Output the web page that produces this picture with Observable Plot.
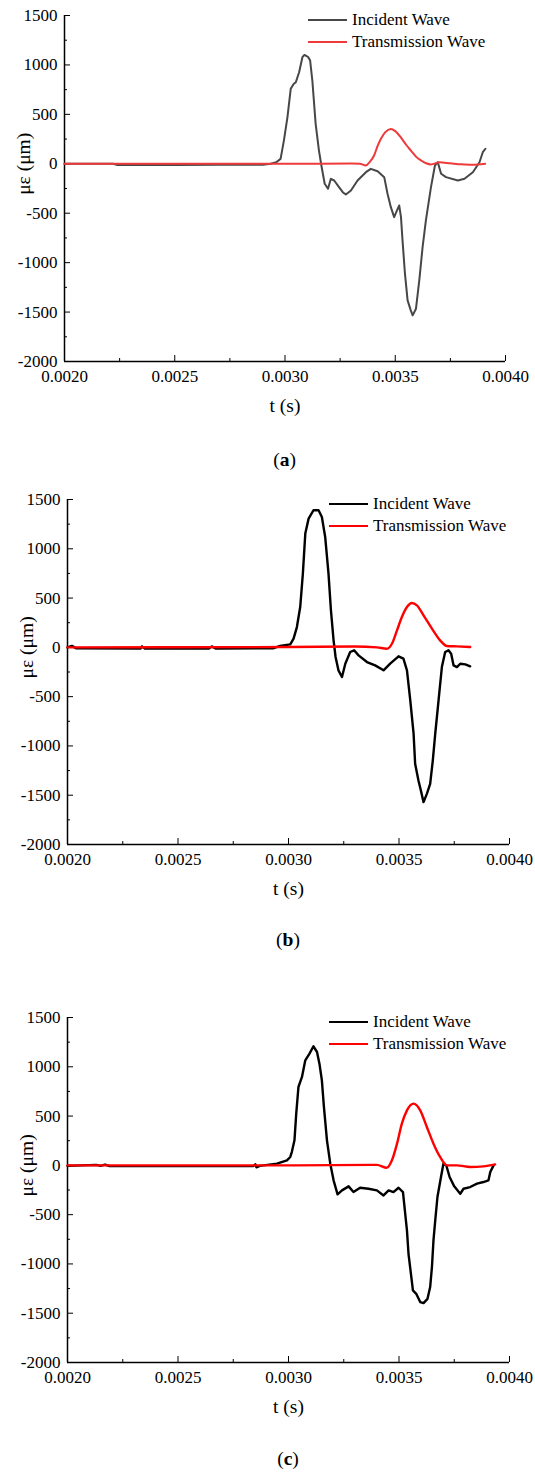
<!DOCTYPE html>
<html>
<head>
<meta charset="utf-8">
<script src="https://cdn.jsdelivr.net/npm/d3@7"></script>
<script src="https://cdn.jsdelivr.net/npm/@observablehq/plot@0.6"></script>
<style>
  body { margin: 0; background: #fff; }
  #root { position: relative; width: 535px; height: 1474px; background: #fff; color: #000; }
  .panel { position: absolute; left: 0; }
  .leg { position: absolute; font-size: 17px; white-space: nowrap; line-height: 20px; }
  .leg .sw { display: inline-block; width: 39px; height: 0; border-top: 2.4px solid #000;
             vertical-align: middle; margin-right: 5px; position: relative; top: -1px; }
  .cap { position: absolute; width: 100px; text-align: center; font-size: 19.5px; line-height: 20px; }
</style>
</head>
<body>
<div id="root" style="font-family:'Liberation Serif'"></div>
<script>
// ---------- axes ----------
const xDomain = [0.002, 0.004];
const yDomain = [-2000, 1500];
const xMajor = [0.002, 0.0025, 0.003, 0.0035, 0.004];
const xMinor = [0.00225, 0.00275, 0.00325, 0.00375];
const yMajor = [-2000, -1500, -1000, -500, 0, 500, 1000, 1500];
const yMinor = [-1750, -1250, -750, -250, 250, 750, 1250];
const seriesNames = ["Incident Wave", "Transmission Wave"];
const panelLabels = ["a", "b", "c"];

// ---------- panel (a) ----------
const tA_inc = [0.00200,0.00222,0.00224,0.00250,0.00270,0.00290,0.002935,0.002960,0.002980,0.002995,0.003011,0.003026,0.003040,0.003049,0.003064,0.003079,0.003087,0.003094,0.003105,0.003114,0.003124,0.003139,0.003154,0.003165,0.003180,0.003195,0.003208,0.003223,0.003245,0.003263,0.003276,0.003299,0.003329,0.003367,0.003389,0.003420,0.003450,0.003465,0.003480,0.003495,0.003508,0.003518,0.003526,0.003533,0.003544,0.003556,0.003570,0.003579,0.003594,0.003609,0.003624,0.003639,0.003662,0.003680,0.003693,0.003708,0.003730,0.003784,0.003814,0.003852,0.003882,0.003897,0.003909];
const eA_inc = [0,0,-12,-12,-10,-10,0,15,50,235,470,758,810,825,926,1078,1100,1095,1080,1044,842,404,134,-17,-202,-253,-152,-169,-236,-290,-310,-270,-169,-85,-51,-75,-135,-303,-439,-540,-472,-422,-540,-775,-1112,-1382,-1480,-1534,-1466,-1180,-843,-573,-236,-17,16,-101,-135,-169,-152,-85,16,117,152];
const tA_tr = [0.00200,0.00250,0.00300,0.00330,0.00334,0.003367,0.003385,0.003404,0.003420,0.003435,0.003455,0.003480,0.003500,0.003526,0.003550,0.003571,0.003595,0.003617,0.003640,0.003662,0.003700,0.003750,0.003800,0.003850,0.003908];
const eA_tr = [0,0,0,3,0,-17,20,84,180,253,320,353,330,265,190,134,70,33,5,-7,15,5,-5,-10,0];

// ---------- panel (b) ----------
const tB_inc = [0.00200,0.00202,0.00204,0.00233,0.002337,0.00235,0.00264,0.002653,0.00267,0.00293,0.002962,0.003008,0.003023,0.003038,0.003053,0.003065,0.003076,0.003091,0.003113,0.003136,0.003151,0.003166,0.003181,0.003192,0.003204,0.003213,0.003226,0.003242,0.003257,0.003279,0.003297,0.003317,0.003355,0.003392,0.003430,0.003460,0.003498,0.003520,0.003536,0.003551,0.003566,0.003573,0.003588,0.003599,0.003611,0.003626,0.003641,0.003653,0.003664,0.003679,0.003694,0.003709,0.003724,0.003736,0.003747,0.003762,0.003777,0.003800,0.003822];
const eB_inc = [0,15,-10,-12,10,-12,-12,10,-12,-10,14,30,88,206,409,748,1154,1306,1391,1391,1323,1120,748,376,71,-98,-233,-301,-166,-47,-30,-81,-149,-183,-233,-166,-91,-115,-233,-538,-876,-1181,-1350,-1452,-1570,-1486,-1384,-1147,-876,-538,-200,-47,-30,-64,-183,-200,-166,-173,-193];
const tB_tr = [0.00200,0.00300,0.00330,0.00340,0.003445,0.003468,0.003491,0.003513,0.003536,0.003558,0.003581,0.003611,0.003649,0.003686,0.003717,0.003762,0.003822];
const eB_tr = [0,3,8,0,-14,37,173,308,409,450,426,325,190,71,14,10,3];

// ---------- panel (c) ----------
const tC_inc = [0.00200,0.00213,0.00215,0.00217,0.00219,0.00284,0.00285,0.002855,0.00287,0.002948,0.002993,0.003008,0.003015,0.003027,0.003030,0.003035,0.003045,0.003061,0.003076,0.003095,0.003113,0.003129,0.003140,0.003151,0.003160,0.003174,0.003189,0.003204,0.003222,0.003242,0.003272,0.003294,0.003324,0.003362,0.003400,0.003430,0.003453,0.003475,0.003498,0.003518,0.003525,0.003536,0.003543,0.003554,0.003563,0.003578,0.003596,0.003611,0.003629,0.003641,0.003649,0.003656,0.003664,0.003674,0.003690,0.003701,0.003714,0.003729,0.003750,0.003777,0.003792,0.003822,0.003853,0.003882,0.003905,0.003913,0.003928];
const eC_inc = [-5,5,-5,8,-8,-8,10,-20,-5,17,51,85,135,254,355,525,795,897,1066,1134,1208,1150,1032,863,600,254,17,-152,-294,-254,-213,-271,-227,-237,-254,-305,-254,-271,-227,-271,-423,-660,-897,-1100,-1269,-1303,-1387,-1398,-1354,-1235,-1032,-761,-558,-321,-118,17,0,-118,-213,-288,-237,-220,-186,-169,-152,-68,0];
const tC_tr = [0.00200,0.00300,0.00340,0.003445,0.003468,0.003491,0.003513,0.003536,0.003566,0.003596,0.003626,0.003656,0.003686,0.003717,0.003762,0.003822,0.003882,0.003935];
const eC_tr = [0,0,5,-24,51,220,423,558,626,558,389,220,85,0,0,-17,-10,10];

const zip = (t, e) => t.map((d, i) => ({t: d, v: e[i]}));

const panels = [
  {top: 0, height: 420, mt: 15, mb: 59, ml: 64, mr: 30,
   inc: zip(tA_inc, eA_inc), tr: zip(tA_tr, eA_tr),
   incColor: "#474747", trColor: "#ee3a3a", sw: 2,
   legLeft: 308, legTop: 20, cap: 460},
  {top: 480, height: 420, mt: 19, mb: 56, ml: 67, mr: 26,
   inc: zip(tB_inc, eB_inc), tr: zip(tB_tr, eB_tr),
   incColor: "#000000", trColor: "#ff0000", sw: 2.4,
   legLeft: 329, legTop: 504, cap: 940},
  {top: 990, height: 430, mt: 27, mb: 58, ml: 67, mr: 26,
   inc: zip(tC_inc, eC_inc), tr: zip(tC_tr, eC_tr),
   incColor: "#000000", trColor: "#ff0000", sw: 2.4,
   legLeft: 329, legTop: 1022, cap: 1459}
];

const root = document.getElementById("root");
const fmtX = d3.format(".4f");
const FF = "Liberation Serif";

panels.forEach((P, k) => {
  const chart = Plot.plot({
    width: 535, height: P.height,
    marginTop: P.mt, marginBottom: P.mb, marginLeft: P.ml, marginRight: P.mr,
    style: {fontFamily: FF, fontSize: "17px",
            color: "#000", background: "transparent", overflow: "visible"},
    x: {domain: xDomain},
    y: {domain: yDomain},
    marks: [
      Plot.axisY({ticks: yMajor, tickSize: -6, tickPadding: 13, tickFormat: d => String(d), label: null, fontSize: 17, fontFamily: FF}),
      Plot.axisY({ticks: yMinor, tickSize: -3, tickFormat: () => "", label: null}),
      Plot.axisX({ticks: xMajor, tickSize: -6, tickPadding: 14, tickFormat: fmtX, label: null, fontSize: 17, fontFamily: FF}),
      Plot.axisX({ticks: xMinor, tickSize: -3, tickFormat: () => "", label: null}),
      Plot.ruleX([xDomain[0]], {stroke: "#000", strokeWidth: 1.5}),
      Plot.ruleY([yDomain[0]], {stroke: "#000", strokeWidth: 1.5}),
      Plot.line(P.inc, {x: "t", y: "v", stroke: P.incColor, strokeWidth: P.sw}),
      Plot.line(P.tr, {x: "t", y: "v", stroke: P.trColor, strokeWidth: P.sw, curve: "monotone-x"}),
      Plot.text(["t (s)"], {text: d => d, frameAnchor: "bottom", dy: 44, fontSize: 19.5, fontFamily: FF, lineAnchor: "middle"}),
      Plot.text([0], {text: () => "με (μm)", x: xDomain[0], y: d => d, dx: -41, rotate: -90, fontSize: 19.5, fontFamily: FF, lineAnchor: "middle"})
    ]
  });
  chart.classList.add("panel");
  chart.style.top = P.top + "px";
  root.appendChild(chart);

  // legend
  const leg = document.createElement("div");
  leg.className = "leg";
  leg.style.fontFamily = "'Liberation Serif'";
  leg.style.left = P.legLeft + "px";
  leg.style.top = (P.legTop - 10) + "px";
  leg.innerHTML =
    `<div style="height:21.7px"><span class="sw" style="border-top-color:${P.incColor}"></span>${seriesNames[0]}</div>` +
    `<div style="height:21.7px"><span class="sw" style="border-top-color:${P.trColor}"></span>${seriesNames[1]}</div>`;
  root.appendChild(leg);

  // caption
  const cap = document.createElement("div");
  cap.className = "cap";
  cap.style.fontFamily = "'Liberation Serif'";
  const cx = P.ml + (535 - P.ml - P.mr) / 2;
  cap.style.left = (cx - 50) + "px";
  cap.style.top = (P.cap - 10) + "px";
  cap.innerHTML = `(<b>${panelLabels[k]}</b>)`;
  root.appendChild(cap);
});
</script>
</body>
</html>
